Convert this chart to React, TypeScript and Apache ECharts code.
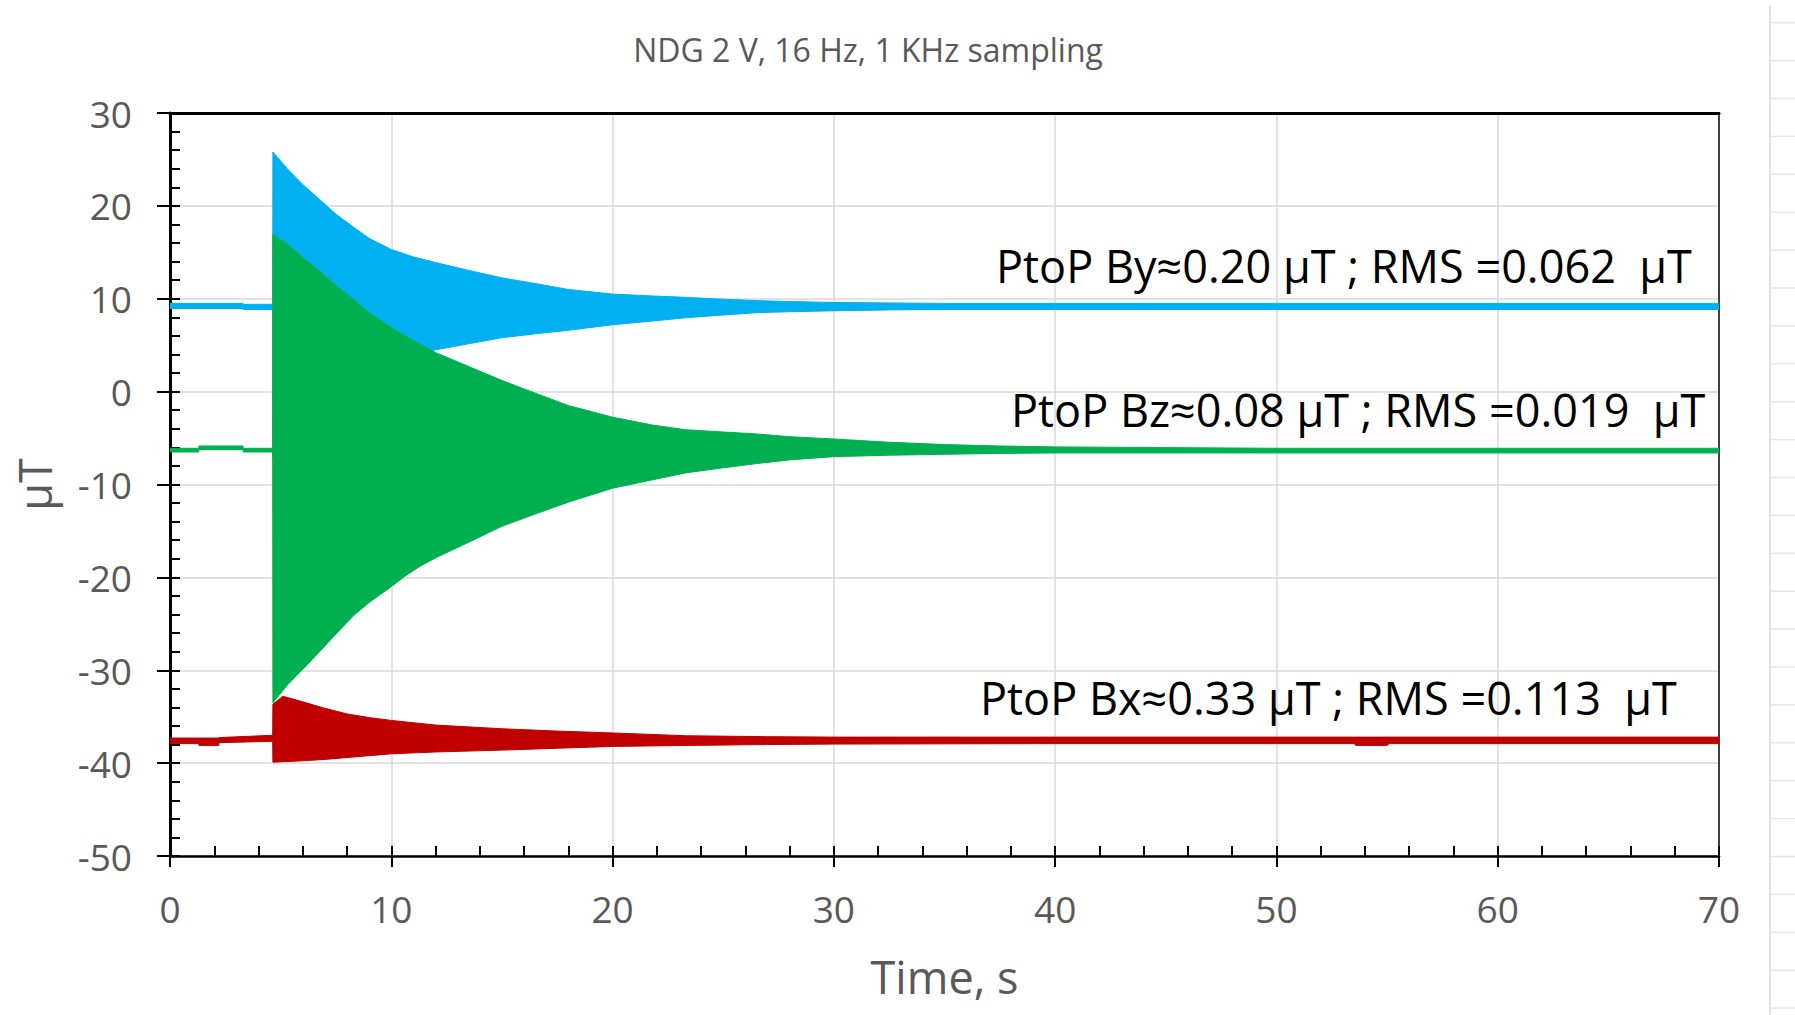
import React, { useEffect, useRef } from "react";
import * as echarts from "echarts";

// ---- Texts ----
const TITLE = "NDG 2 V, 16 Hz, 1 KHz sampling";
const X_NAME = "Time, s";
const Y_NAME = "µT";
const NOTE_BY = "PtoP By≈0.20 µT ; RMS =0.062  µT";
const NOTE_BZ = "PtoP Bz≈0.08 µT ; RMS =0.019  µT";
const NOTE_BX = "PtoP Bx≈0.33 µT ; RMS =0.113  µT";

// ---- Axes ----
const X_MIN = 0;
const X_MAX = 70;
const X_STEP = 10;
const Y_MIN = -50;
const Y_MAX = 30;
const Y_STEP = 10;

// ---- By (blue): envelope of the 16 Hz oscillation (time s, upper µT, lower µT) ----
const BY_T = [0, 3.3, 3.31, 4.64, 4.65, 5.3, 6, 6.8, 7.5, 8.3, 9, 10, 11, 12, 13.6, 15, 16.6, 18, 20, 21.8, 23.3, 25, 26.5, 28, 30, 32.5, 35, 40, 50, 70];
const BY_UPPER = [9.5, 9.5, 9.4, 9.4, 25.8, 24.0, 22.3, 20.6, 19.1, 17.7, 16.5, 15.3, 14.5, 13.9, 13.0, 12.25, 11.6, 11.0, 10.5, 10.3, 10.15, 9.95, 9.8, 9.7, 9.6, 9.55, 9.5, 9.5, 9.5, 9.5];
const BY_LOWER = [8.95, 8.95, 8.85, 8.85, -7.4, -5.6, -3.9, -2.2, -0.7, 0.7, 1.9, 3.1, 3.9, 4.5, 5.2, 5.8, 6.25, 6.6, 7.2, 7.6, 7.95, 8.25, 8.5, 8.6, 8.7, 8.8, 8.85, 8.85, 8.85, 8.85];

// ---- Bz (green) ----
const BZ_T = [0, 1.3, 1.31, 3.3, 3.31, 4.64, 4.65, 5.3, 6, 6.8, 7.5, 8.3, 9, 10, 10.6, 11.3, 12, 13.6, 15, 16.6, 18, 20, 21.8, 23.3, 25, 26.5, 28, 30, 32.5, 35, 37.5, 40, 50, 70];
const BZ_UPPER = [-6.1, -6.1, -5.85, -5.85, -6.1, -6.1, 16.9, 15.9, 14.4, 12.9, 11.4, 9.9, 8.5, 6.9, 6.05, 5.1, 4.2, 2.6, 1.2, -0.25, -1.5, -2.75, -3.6, -4.1, -4.35, -4.55, -4.85, -5.1, -5.45, -5.7, -5.85, -5.95, -6.1, -6.1];
const BZ_LOWER = [-6.5, -6.5, -6.25, -6.25, -6.5, -6.5, -33.5, -31.6, -29.9, -27.9, -26.1, -24.1, -22.7, -21.0, -19.9, -18.8, -17.9, -16.1, -14.5, -13.1, -11.9, -10.4, -9.5, -8.75, -8.2, -7.75, -7.35, -7.0, -6.85, -6.75, -6.65, -6.6, -6.6, -6.6];

// ---- Bx (red) ----
const BX_T = [0, 1.3, 1.31, 2.2, 2.21, 4.64, 4.65, 5.1, 6, 7, 8, 9, 10, 12, 15, 17.5, 20, 23.3, 27, 30, 40, 53.5, 53.6, 55, 55.1, 70];
const BX_UPPER = [-37.3, -37.3, -37.3, -37.3, -37.25, -37.0, -33.65, -32.8, -33.4, -34.1, -34.7, -35.1, -35.4, -35.9, -36.3, -36.55, -36.75, -37.05, -37.15, -37.2, -37.2, -37.2, -37.2, -37.2, -37.2, -37.2];
const BX_LOWER = [-37.9, -37.9, -38.1, -38.1, -37.8, -37.65, -39.9, -39.85, -39.75, -39.6, -39.4, -39.2, -39.0, -38.8, -38.6, -38.4, -38.2, -38.1, -38.0, -37.95, -37.9, -37.9, -38.1, -38.1, -37.9, -37.9];

const FONT = "'Open Sans', 'DejaVu Sans', sans-serif";
const GRAY_TEXT = "#595959";

function makeBandRenderer(color: string) {
  return function (params: any, api: any) {
    if (params.dataIndexInside !== 0) return null;
    const n = params.dataInsideLength;
    const upper: number[][] = [];
    const lower: number[][] = [];
    for (let i = 0; i < n; i++) {
      const t = api.value(0, i);
      upper.push(api.coord([t, api.value(1, i)]));
      lower.push(api.coord([t, api.value(2, i)]));
    }
    return {
      type: "polygon",
      shape: { points: upper.concat(lower.reverse()) },
      style: { fill: color, stroke: color, lineWidth: 1, lineJoin: "round" },
      silent: true,
    };
  };
}

function band(name: string, t: number[], up: number[], lo: number[], color: string) {
  return {
    type: "custom",
    name,
    xAxisIndex: 0,
    yAxisIndex: 0,
    clip: true,
    data: t.map((v, i) => [v, up[i], lo[i]]),
    encode: { x: 0, y: [1, 2] },
    renderItem: makeBandRenderer(color),
  };
}

export default function App() {
  const ref = useRef<HTMLDivElement>(null);
  useEffect(() => {
    if (!ref.current) return;
    const chart = echarts.init(ref.current, undefined, { renderer: "svg" });

    const sheetLines: any[] = [
      {
        type: "line",
        shape: { x1: 1770, y1: 6, x2: 1770, y2: 1015 },
        style: { stroke: "#e2e2e2", lineWidth: 2 },
        silent: true,
      },
    ];
    for (let y = 22.7; y < 1015; y += 37.9) {
      sheetLines.push({
        type: "line",
        shape: { x1: 1771, y1: y, x2: 1795, y2: y },
        style: { stroke: "#e6e6e6", lineWidth: 1.5 },
        silent: true,
      });
    }

    const noteStyle = { fontSize: 45, fontFamily: FONT, fill: "#000", textVerticalAlign: "middle" };

    const tickStyle = { color: "#000", width: 2 };

    chart.setOption({
      animation: false,
      backgroundColor: "#ffffff",
      title: {
        text: TITLE,
        left: 863,
        top: 28,
        textAlign: "center",
        textStyle: { fontSize: 32, fontWeight: "normal", color: GRAY_TEXT, fontFamily: FONT },
      },
      grid: { left: 170, right: 76, top: 113, bottom: 159, containLabel: false },
      xAxis: [
        {
          type: "value",
          min: X_MIN,
          max: X_MAX,
          interval: X_STEP,
          position: "bottom",
          name: X_NAME,
          nameLocation: "middle",
          nameGap: 98,
          nameTextStyle: { fontSize: 45, color: GRAY_TEXT, fontFamily: FONT },
          axisLine: { show: true, onZero: false, lineStyle: { color: "#000", width: 2.5 } },
          axisTick: { show: true, inside: true, length: 10, lineStyle: tickStyle },
          minorTick: { show: true, splitNumber: 5, length: 10, lineStyle: tickStyle },
          axisLabel: { margin: 34, fontSize: 37, color: GRAY_TEXT, fontFamily: FONT },
          splitLine: { show: true, lineStyle: { color: "#d9d9d9", width: 1.5 } },
        },
        {
          type: "value",
          min: X_MIN,
          max: X_MAX,
          interval: X_STEP,
          position: "bottom",
          axisLine: { show: false, onZero: false },
          axisTick: { show: true, inside: false, length: 11, lineStyle: tickStyle },
          axisLabel: { show: false },
          splitLine: { show: false },
        },
        {
          type: "value",
          min: X_MIN,
          max: X_MAX,
          interval: X_STEP,
          position: "top",
          axisLine: { show: true, onZero: false, lineStyle: { color: "#000", width: 3 } },
          axisTick: { show: false },
          axisLabel: { show: false },
          splitLine: { show: false },
        },
      ],
      yAxis: [
        {
          type: "value",
          min: Y_MIN,
          max: Y_MAX,
          interval: Y_STEP,
          position: "left",
          name: Y_NAME,
          nameLocation: "middle",
          nameRotate: 90,
          nameGap: 113,
          nameTextStyle: { fontSize: 45, color: GRAY_TEXT, fontFamily: FONT },
          axisLine: { show: true, onZero: false, lineStyle: { color: "#000", width: 3 } },
          axisTick: { show: true, inside: true, length: 10, lineStyle: tickStyle },
          minorTick: { show: true, splitNumber: 5, length: 10, lineStyle: tickStyle },
          axisLabel: { margin: 38, fontSize: 37, color: GRAY_TEXT, fontFamily: FONT },
          splitLine: { show: true, lineStyle: { color: "#d9d9d9", width: 1.5 } },
        },
        {
          type: "value",
          min: Y_MIN,
          max: Y_MAX,
          interval: Y_STEP,
          position: "left",
          axisLine: { show: false, onZero: false },
          axisTick: { show: true, inside: false, length: 13, lineStyle: tickStyle },
          axisLabel: { show: false },
          splitLine: { show: false },
        },
        {
          type: "value",
          min: Y_MIN,
          max: Y_MAX,
          interval: Y_STEP,
          position: "right",
          axisLine: { show: true, onZero: false, lineStyle: { color: "#404040", width: 2 } },
          axisTick: { show: false },
          axisLabel: { show: false },
          splitLine: { show: false },
        },
      ],
      series: [
        band("By", BY_T, BY_UPPER, BY_LOWER, "#00B0F0"),
        band("Bx", BX_T, BX_UPPER, BX_LOWER, "#C00000"),
        band("Bz", BZ_T, BZ_UPPER, BZ_LOWER, "#00B050"),
      ],
      graphic: [
        ...sheetLines,
        { type: "text", x: 996, y: 265, style: { text: NOTE_BY, ...noteStyle }, z: 100 },
        { type: "text", x: 1011, y: 409, style: { text: NOTE_BZ, ...noteStyle }, z: 100 },
        { type: "text", x: 980, y: 697, style: { text: NOTE_BX, ...noteStyle }, z: 100 },
      ],
    });

    return () => chart.dispose();
  }, []);

  return (
    <div
      ref={ref}
      style={{ position: "absolute", left: 0, top: 0, width: 1795, height: 1015, background: "#fff" }}
    />
  );
}
